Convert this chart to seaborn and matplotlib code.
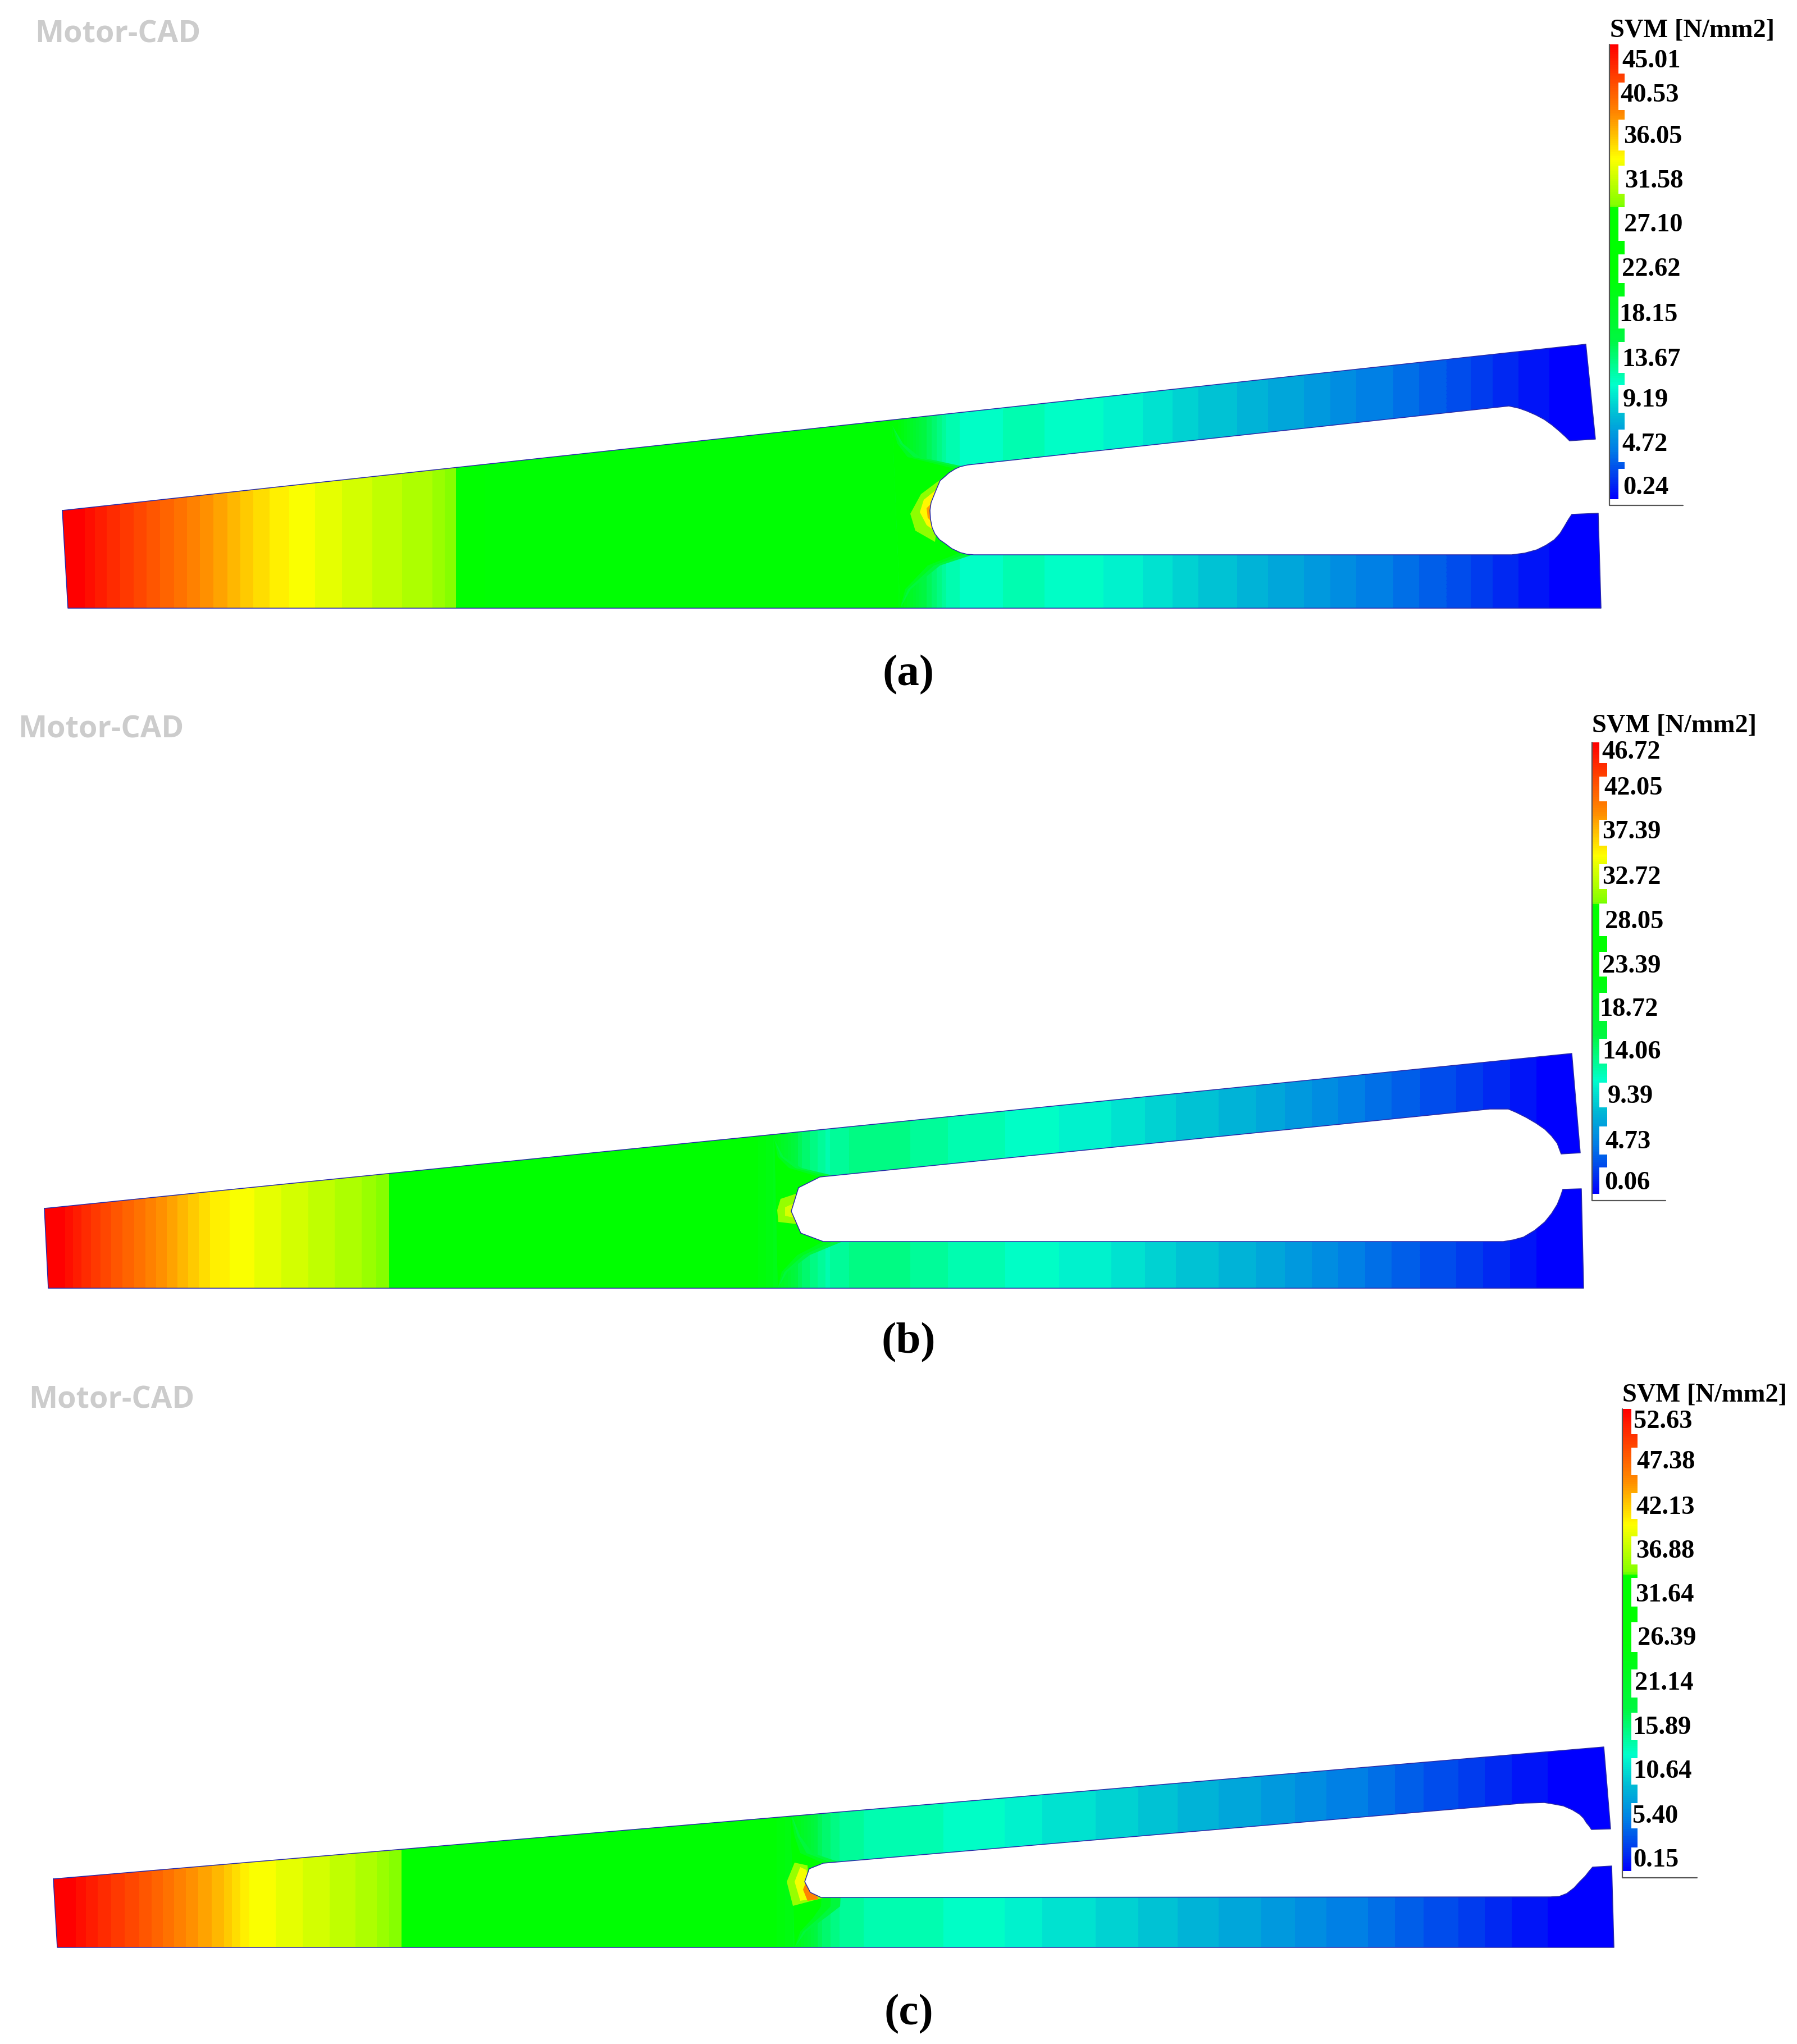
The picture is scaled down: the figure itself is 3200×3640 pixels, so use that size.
import numpy as np
import matplotlib
matplotlib.use('Agg')
import matplotlib.pyplot as plt
from matplotlib.colors import LinearSegmentedColormap
from matplotlib.patches import Polygon, Rectangle
import seaborn as sns

# Legend tick values (N/mm2), top to bottom
ticks_a = ['45.01', '40.53', '36.05', '31.58', '27.10', '22.62', '18.15', '13.67', '9.19', '4.72', '0.24']
ticks_b = ['46.72', '42.05', '37.39', '32.72', '28.05', '23.39', '18.72', '14.06', '9.39', '4.73', '0.06']
ticks_c = ['52.63', '47.38', '42.13', '36.88', '31.64', '26.39', '21.14', '15.89', '10.64', '5.40', '0.15']

# Stress read along the lamination, left to right, 60 bands per panel
stress_a = [45, 43.2, 41.9, 40.5, 39.2, 37.8, 36.5, 35.1, 34, 33.3, 32.6, 32, 31.4, 30.8, 30.2,
            28.6, 22.5, 22.5, 22.5, 22.5, 22.5, 22.5, 22.5, 22.5, 22.5, 22.5, 22.5, 22.5, 22.5, 22.5, 22.5, 22.5, 22.5,
            16.2, 12.6, 11.3, 11.9, 12.2, 11.9, 11.7, 11.3, 10.8, 10.4, 9.7, 9, 8.6, 8.1, 7.4, 7, 6.3, 5.6, 5.2, 4.5,
            3.8, 3.2, 2.3, 1.6, 0.9, 0.5, 0.24]
stress_b = [46.7, 44.4, 42.5, 40.9, 39.2, 37.4, 35.7, 34.8, 34.1, 33.4, 32.7, 32, 31.3,
            29.85, 23.4, 23.4, 23.4, 23.4, 23.4, 23.4, 23.4, 23.4, 23.4, 23.4, 23.4, 23.4, 23.4, 23.4,
            21, 15.4, 13, 14, 14.2, 14, 13.5, 13, 12.6, 12.4, 12.1, 11.7, 11.4, 11, 10.5, 9.8, 9.3, 8.9, 8.4, 7.9,
            7.2, 6.5, 5.8, 5.1, 4.4, 3.7, 3.3, 2.6, 1.9, 1.2, 0.5, 0.06]
stress_c = [52.6, 50.5, 48.9, 47.4, 45.5, 43.7, 42.1, 39.5, 38.7, 37.9, 37.1, 36.3, 35.3,
            33.5, 26.3, 26.3, 26.3, 26.3, 26.3, 26.3, 26.3, 26.3, 26.3, 26.3, 26.3, 26.3, 26.3, 26.3,
            23.7, 17.4, 15, 14.7, 14.5, 14.2, 13.9, 13.7, 13.2, 12.6, 12.1, 11.8, 11.3, 10.8, 10.3, 9.7, 9.2, 8.7,
            8.2, 7.6, 6.8, 6.3, 5.8, 5, 4.2, 3.7, 2.9, 2.1, 1.3, 0.8, 0.3, 0.15]

# Lamination outlines, picture pixels
outline_a_x = [111, 2824, 2841, 2795, 2787, 2777, 2764, 2750, 2735, 2719, 2705, 2687, 1723, 1710, 1701, 1690, 1681, 1674, 1666, 1658, 1656, 1657, 1660, 1665, 1673, 1683, 1695, 1710, 1722, 1734, 2692, 2715, 2737, 2753, 2768, 2778, 2786, 2793, 2799, 2846, 2851, 121]
outline_a_y = [909, 613, 782, 785, 777, 768, 757, 747, 739, 732, 727, 723, 828, 831, 835, 842, 850, 856, 875, 895, 909, 925, 940, 951, 961, 968, 977, 984, 987, 988, 988, 985, 979, 971, 961, 950, 937, 925, 916, 914, 1083, 1083]
outline_b_x = [79, 2799, 2814, 2780, 2773, 2763, 2751, 2735, 2718, 2700, 2686, 2653, 1460, 1422, 1409, 1426, 1466, 2677, 2695, 2713, 2733, 2751, 2763, 2773, 2779, 2783, 2816, 2820, 86]
outline_b_y = [2152, 1876, 2053, 2055, 2036, 2023, 2011, 2000, 1990, 1981, 1975, 1975, 2096, 2115, 2157, 2196, 2211, 2211, 2208, 2203, 2191, 2176, 2161, 2145, 2130, 2118, 2117, 2294, 2294]
outline_c_x = [95, 2856, 2868, 2834, 2830, 2825, 2820, 2813, 2800, 2784, 2768, 2750, 2715, 1466, 1441, 1433, 1443, 1462, 2761, 2777, 2790, 2803, 2813, 2823, 2830, 2836, 2870, 2874, 102]
outline_c_y = [3346, 3111, 3257, 3258, 3252, 3246, 3238, 3231, 3223, 3216, 3213, 3210, 3211, 3318, 3328, 3351, 3370, 3379, 3378, 3377, 3372, 3362, 3351, 3341, 3332, 3325, 3323, 3468, 3468]

# Green wedges that reach towards the slot tip
wedge_a_x = [1589, 1598, 1616, 1701, 1710, 1652, 1612, 1603]
wedge_a_y = [758, 790, 814, 835, 984, 1007, 1049, 1083]
wedge_b_x = [1379, 1385, 1405, 1460, 1466, 1420, 1392, 1385]
wedge_b_y = [2030, 2060, 2080, 2096, 2211, 2235, 2265, 2294]
wedge_c_x = [1407, 1415, 1425, 1466, 1462, 1448, 1425, 1415]
wedge_c_y = [3225, 3270, 3300, 3318, 3395, 3415, 3440, 3468]

# Legend layout: bar left, narrow edge, tab edge, bar top/bottom, axis line y and end
bar_a = [2866, 2882, 2893, 79, 889, 900, 2997]
bar_b = [2835, 2848, 2862, 1322, 2126, 2138, 2966]
bar_c = [2889, 2905, 2916, 2509, 3332, 3344, 3022]
tabs_a = [(131, 147), (196, 213), (268, 295), (345, 369), (429, 453), (504, 528), (585, 609), (664, 686), (735, 765), (823, 835)]
tabs_b = [(1359, 1383), (1427, 1460), (1506, 1539), (1583, 1609), (1667, 1695), (1739, 1768), (1818, 1850), (1894, 1928), (1972, 2006), (2056, 2079)]
tabs_c = [(2554, 2578), (2627, 2659), (2705, 2736), (2786, 2810), (2861, 2889), (2942, 2973), (3023, 3050), (3099, 3131), (3178, 3211), (3256, 3290)]
label_x_a = [2888, 2885, 2891, 2893, 2892, 2888, 2883, 2888, 2890, 2888, 2890]
label_y_a = [106, 167, 241, 320, 398, 477, 558, 638, 710, 789, 866]
label_x_b = [2852, 2856, 2853, 2853, 2858, 2853, 2848, 2853, 2863, 2858, 2857]
label_y_b = [1337, 1401, 1479, 1560, 1639, 1718, 1795, 1871, 1950, 2031, 2104]
label_x_c = [2909, 2914, 2913, 2913, 2912, 2916, 2911, 2907, 2908, 2907, 2908]
label_y_c = [2529, 2601, 2682, 2760, 2838, 2915, 2995, 3074, 3152, 3232, 3310]

W, H = 3200, 3640
sns.set_theme(style='white')

# FEA rainbow as in the Motor-CAD legend
svm_cmap = LinearSegmentedColormap.from_list('svm', [
    (0.0, (0, 0, 1)), (0.04, (0, 0.2, 0.94)), (0.11, (0, 0.5, 0.9)), (0.18, (0, 0.72, 0.84)),
    (0.25, (0, 1, 0.8)), (0.35, (0, 0.97, 0.25)), (0.5, (0, 1, 0)), (0.64, (0, 1, 0)),
    (0.645, (0.5, 1, 0)), (0.75, (1, 1, 0)), (0.845, (1, 0.55, 0)), (1.0, (1, 0, 0))], N=1024)
# contour plot has stepped levels
field_cmap = svm_cmap.resampled(64)

fig = plt.figure(figsize=(W / 100, H / 100), dpi=100, facecolor='white')
over = fig.add_axes([0, 0, 1, 1], zorder=5)
over.set_xlim(0, W)
over.set_ylim(H, 0)
over.axis('off')
over.patch.set_alpha(0)


def sub_axes(x0, x1, y0, y1):
    return fig.add_axes([x0 / W, 1 - y1 / H, (x1 - x0) / W, (y1 - y0) / H], zorder=2)


def draw_panel(stress, xs, ys, vmax):
    hax = sub_axes(min(xs), max(xs), min(ys), max(ys))
    hax.axis('off')
    im = hax.imshow(np.array([stress]), aspect='auto', cmap=field_cmap, vmin=0, vmax=vmax,
                    interpolation='bilinear', interpolation_stage='data')
    clip = Polygon(np.column_stack([xs, ys]), closed=True, transform=over.transData)
    im.set_clip_path(clip)
    return clip


def patch_field(px, py, value, vmax, clip):
    # local contour around the slot (value in N/mm2)
    p = over.fill(px, py, color=svm_cmap(value / vmax), lw=0, zorder=1)[0]
    p.set_clip_path(clip)


def draw_wedge(wx, wy, vmax, clip):
    # soft green lobes either side of the slot tip
    wx = np.array(wx)
    patch_field(wx + [0, 10, 22, 34, 34, 22, 10, 0], wy, 0.36 * vmax, vmax, clip)
    patch_field(wx + [0, 5, 11, 17, 17, 11, 5, 0], wy, 0.43 * vmax, vmax, clip)
    patch_field(wx, wy, 0.5 * vmax, vmax, clip)


def draw_legend(bar, tabs, labels, lx, ly, title_x, title_y, vmax):
    left, narrow, tab, top, bottom, line_y, line_end = bar
    bax = sub_axes(left, tab, top, bottom)
    sns.heatmap(np.linspace(vmax, 0, 240)[:, None], ax=bax, cmap=svm_cmap, vmin=0, vmax=vmax, cbar=False,
                xticklabels=False, yticklabels=False)
    edges = [top] + [v for t in tabs for v in t] + [bottom]
    for k in range(0, len(edges), 2):
        over.add_patch(Rectangle((narrow, edges[k]), tab - narrow + 2, edges[k + 1] - edges[k],
                                 fc='white', ec='none', zorder=3))
    over.plot([left, left, line_end], [top, line_y, line_y], color='#555555', lw=1.6, zorder=4)
    for lab, x, y in zip(labels, lx, ly):
        over.text(x, y + 3, lab, family='Liberation Serif', weight='bold', fontsize=33.5, va='center', ha='left',
                  color='black', zorder=6)
    over.text(title_x - 3, title_y + 2, 'SVM [N/mm2]', family='Liberation Serif', weight='bold', fontsize=33.5,
              va='center', ha='left', color='black', zorder=6)


edge = '#2a2aa8'

# (a)
clip_a = draw_panel(stress_a, outline_a_x, outline_a_y, 45.01)
draw_wedge(wedge_a_x, wedge_a_y, 45.01, clip_a)
patch_field([1680, 1640, 1621, 1630, 1665], [850, 880, 915, 945, 965], 29.5, 45.01, clip_a)
patch_field([1670, 1645, 1638, 1650, 1670], [870, 890, 912, 935, 950], 34, 45.01, clip_a)
patch_field([1665, 1650, 1652, 1665], [890, 905, 922, 935], 37.5, 45.01, clip_a)
over.plot(outline_a_x + outline_a_x[:1], outline_a_y + outline_a_y[:1], color=edge, lw=1.1, zorder=2)
draw_legend(bar_a, tabs_a, ticks_a, label_x_a, label_y_a, 2870, 53, 45.01)

# (b)
clip_b = draw_panel(stress_b, outline_b_x, outline_b_y, 46.72)
draw_wedge(wedge_b_x, wedge_b_y, 46.72, clip_b)
patch_field([1420, 1390, 1384, 1386, 1420], [2125, 2135, 2155, 2176, 2180], 31, 46.72, clip_b)
patch_field([1420, 1398, 1398, 1420], [2140, 2150, 2165, 2170], 33.5, 46.72, clip_b)
over.plot(outline_b_x + outline_b_x[:1], outline_b_y + outline_b_y[:1], color=edge, lw=1.1, zorder=2)
draw_legend(bar_b, tabs_b, ticks_b, label_x_b, label_y_b, 2838, 1290, 46.72)

# (c)
clip_c = draw_panel(stress_c, outline_c_x, outline_c_y, 52.63)
draw_wedge(wedge_c_x, wedge_c_y, 52.63, clip_c)
patch_field([1415, 1438, 1440, 1465, 1412, 1401], [3317, 3322, 3350, 3380, 3394, 3351], 35, 52.63, clip_c)
patch_field([1425, 1436, 1440, 1455, 1425, 1415], [3325, 3330, 3350, 3380, 3385, 3351], 39, 52.63, clip_c)
patch_field([1436, 1440, 1458, 1438, 1430], [3350, 3355, 3382, 3385, 3365], 45, 52.63, clip_c)
over.plot(outline_c_x + outline_c_x[:1], outline_c_y + outline_c_y[:1], color=edge, lw=1.1, zorder=2)
draw_legend(bar_c, tabs_c, ticks_c, label_x_c, label_y_c, 2892, 2482, 52.63)

# Watermarks and captions
for x, y in [(62, 61), (32, 1300), (51, 2493)]:
    over.text(x, y, 'Motor-CAD', family='Open Sans', weight='bold', fontsize=39, color='#cccccc', va='center', ha='left')
for lab, y in [('(a)', 1202), ('(b)', 2391), ('(c)', 3587)]:
    over.text(1618, y, lab, family='Liberation Serif', weight='bold', fontsize=57, color='black', va='center', ha='center')

fig.savefig('out.png', dpi=100, facecolor='white')
